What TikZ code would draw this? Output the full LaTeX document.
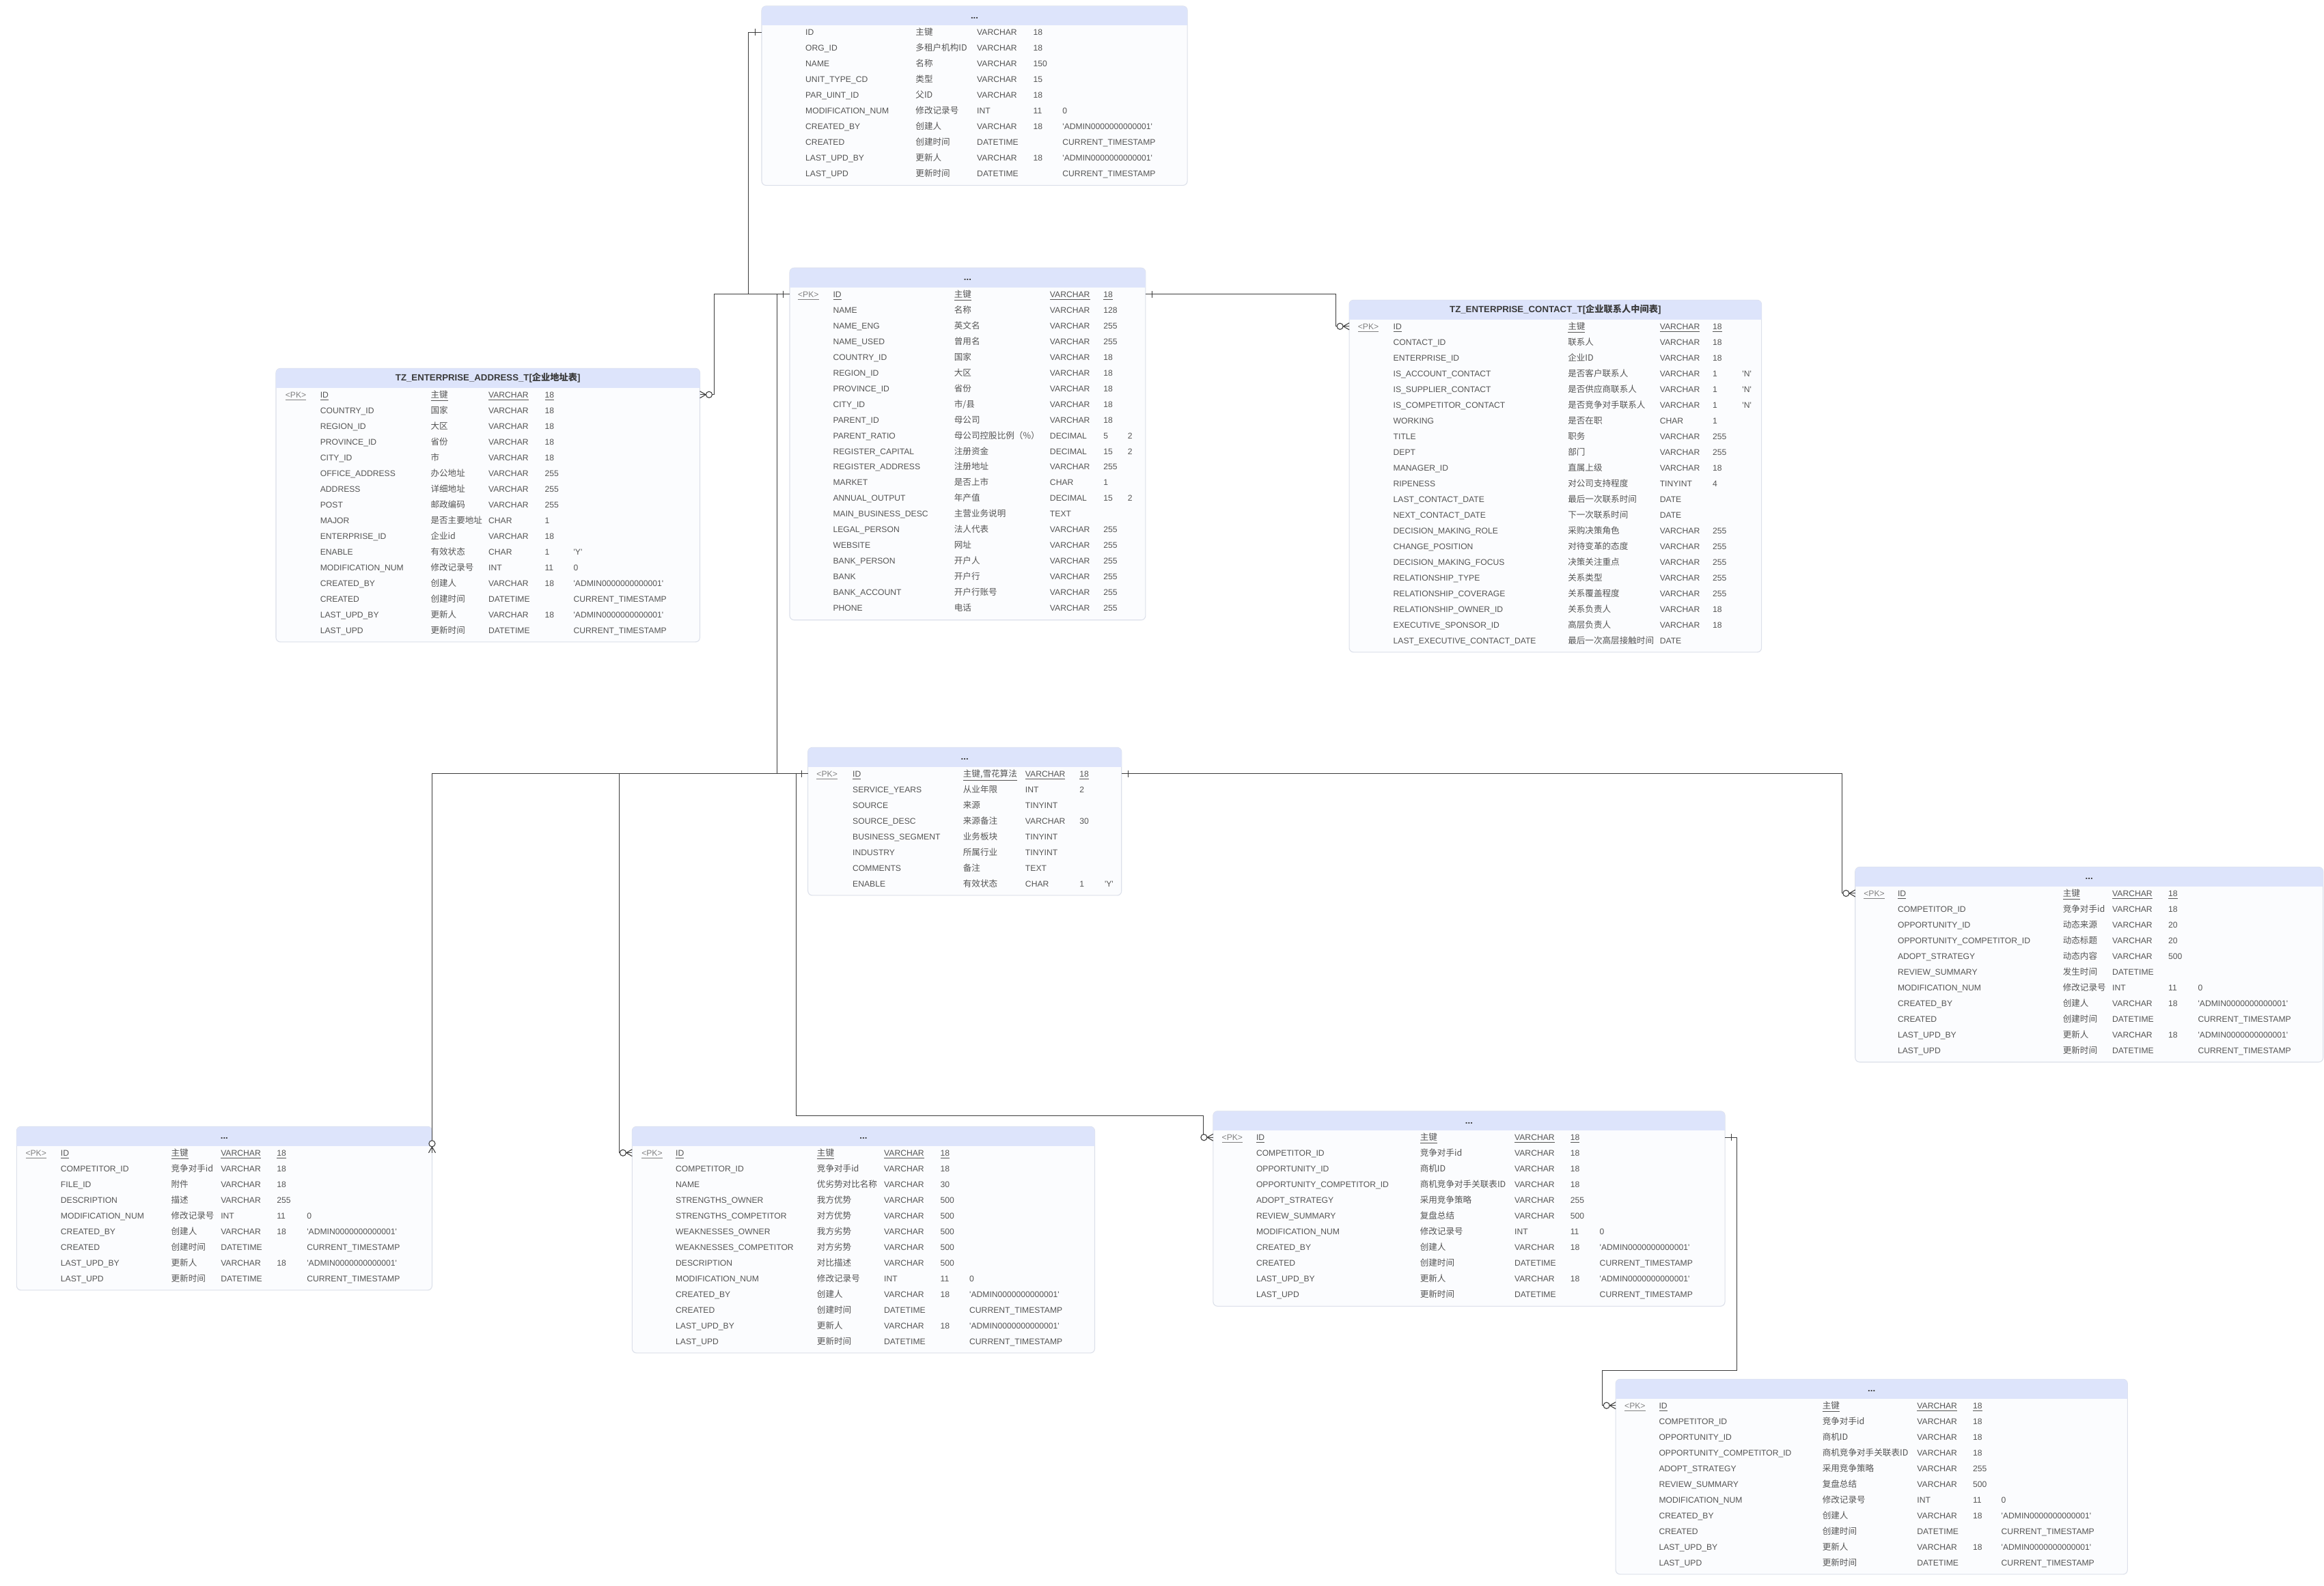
\documentclass[tikz,border=0pt]{standalone}
\usepackage{fontspec}
\setmainfont{Liberation Sans}
\newfontfamily\cjk{Noto Sans CJK SC}
\usetikzlibrary{arrows.meta}

\definecolor{headblue}{HTML}{DDE4FB}
\definecolor{tablebody}{HTML}{FBFCFE}
\definecolor{tableline}{HTML}{DCE0EA}
\definecolor{cellink}{HTML}{555555}
\definecolor{pkink}{HTML}{828282}
\definecolor{headink}{HTML}{3A3A3A}
\definecolor{linkink}{HTML}{3C3C3C}

% ER line ends: one (bar) and zero-or-many (circle + crow's foot)
\pgfdeclarearrow{
  name = Onebar,
  cache = false,
  setup code = {
    \pgfarrowssettipend{0pt}
    \pgfarrowssetlineend{0pt}
    \pgfarrowssetbackend{-5pt}
    \pgfarrowshullpoint{0pt}{2.4pt}
    \pgfarrowshullpoint{-5pt}{2.4pt}
    \pgfarrowshullpoint{-5pt}{-2.4pt}
    \pgfarrowshullpoint{0pt}{-2.4pt}
  },
  drawing code = {
    \pgfpathmoveto{\pgfqpoint{-4.3pt}{2.3pt}}
    \pgfpathlineto{\pgfqpoint{-4.3pt}{-2.3pt}}
    \pgfusepathqstroke
  }
}
\pgfdeclarearrow{
  name = Zeromany,
  cache = false,
  setup code = {
    \pgfarrowssettipend{0pt}
    \pgfarrowssetlineend{0pt}
    \pgfarrowssetbackend{-8.5pt}
    \pgfarrowshullpoint{0pt}{2.4pt}
    \pgfarrowshullpoint{-8.5pt}{2.4pt}
    \pgfarrowshullpoint{-8.5pt}{-2.4pt}
    \pgfarrowshullpoint{0pt}{-2.4pt}
  },
  drawing code = {
    \pgfpathmoveto{\pgfqpoint{0pt}{2.3pt}}
    \pgfpathlineto{\pgfqpoint{-4pt}{0pt}}
    \pgfpathlineto{\pgfqpoint{0pt}{-2.3pt}}
    \pgfusepathqstroke
    \pgfsetfillcolor{white}
    \pgfpathcircle{\pgfqpoint{-6.2pt}{0pt}}{2.1pt}
    \pgfusepathqfillstroke
  }
}

\tikzset{
  tablebox/.style={draw=tableline, fill=tablebody, line width=0.5pt,
    rounded corners=3pt, anchor=north west, inner sep=0pt, outer sep=0pt},
  headtext/.style={font=\bfseries\fontsize{6.1}{7}\selectfont, text=headink,
    text height=5pt, text depth=1pt, inner sep=0pt},
  cell/.style={anchor=west, inner sep=0pt, text height=5pt, text depth=1pt,
    text=cellink, font=\fontsize{5.6}{7}\selectfont},
  cjkcell/.style={cell, font=\cjk\fontsize{5.8}{7}\selectfont},
  pkcell/.style={cell, text=pkink},
  link/.style={draw=linkink, line width=0.5pt}
}

\newcount\rowno
\def\curtab{}
\newcommand\q[1]{\textquotesingle#1\textquotesingle}
% column offsets: pk, name, comment, type, length, default
\newcommand\ercols[6]{\def\colpk{#1}\def\colname{#2}\def\colcmt{#3}%
  \def\coltype{#4}\def\collen{#5}\def\coldef{#6}}
% table: name, x, y, width, rows, header
\newcommand\ertable[6]{%
  \node[tablebox, minimum width=#4, minimum height={25.6+(#5-1)*10.6}] (#1) at (#2,#3) {};
  \begin{scope}
    \clip (#1.north west) rectangle ([yshift=-12.8]#1.north east);
    \fill[headblue, rounded corners=3pt] (#1.north west) rectangle (#1.south east);
  \end{scope}
  \node[headtext] (#1-h) at ([yshift=-6.4]#1.north) {#6};
  \gdef\curtab{#1}\global\rowno=0\relax}
\newcommand\erpk[4]{%
  \pgfmathsetmacro\rowy{17.7+\the\rowno*10.6}%
  \node[pkcell] (\curtab-pk) at ([xshift=\colpk, yshift=-\rowy]\curtab.north west) {\underline{<PK>}};
  \node[cell] (\curtab-r\the\rowno) at ([xshift=\colname, yshift=-\rowy]\curtab.north west) {\underline{#1}};
  \node[cjkcell] (\curtab-c\the\rowno) at ([xshift=\colcmt, yshift=-\rowy]\curtab.north west) {\underline{#2}};
  \node[cell] (\curtab-t\the\rowno) at ([xshift=\coltype, yshift=-\rowy]\curtab.north west) {\underline{#3}};
  \node[cell] (\curtab-l\the\rowno) at ([xshift=\collen, yshift=-\rowy]\curtab.north west) {\underline{#4}};
  \global\advance\rowno by 1\relax}
\newcommand\errow[5]{%
  \pgfmathsetmacro\rowy{17.7+\the\rowno*10.6}%
  \node[cell] (\curtab-r\the\rowno) at ([xshift=\colname, yshift=-\rowy]\curtab.north west) {#1};
  \node[cjkcell] (\curtab-c\the\rowno) at ([xshift=\colcmt, yshift=-\rowy]\curtab.north west) {#2};
  \node[cell] (\curtab-t\the\rowno) at ([xshift=\coltype, yshift=-\rowy]\curtab.north west) {#3};
  \node[cell] (\curtab-l\the\rowno) at ([xshift=\collen, yshift=-\rowy]\curtab.north west) {#4};
  \node[cell] (\curtab-d\the\rowno) at ([xshift=\coldef, yshift=-\rowy]\curtab.north west) {#5};
  \global\advance\rowno by 1\relax}
\newcommand\auditrows{%
  \errow{MODIFICATION\_NUM}{修改记录号}{INT}{11}{0}%
  \errow{CREATED\_BY}{创建人}{VARCHAR}{18}{\q{ADMIN0000000000001}}%
  \errow{CREATED}{创建时间}{DATETIME}{}{CURRENT\_TIMESTAMP}%
  \errow{LAST\_UPD\_BY}{更新人}{VARCHAR}{18}{\q{ADMIN0000000000001}}%
  \errow{LAST\_UPD}{更新时间}{DATETIME}{}{CURRENT\_TIMESTAMP}}

\begin{document}
\begin{tikzpicture}[x=1pt, y=-1pt]
    \path[use as bounding box, fill=white] (0,0) rectangle (1568,1070.2);

    % organisation
    \ercols{0}{29.4}{103.7}{145.1}{183.1}{202.8}
    \ertable{org}{513.9}{4.1}{287.2}{10}{...}
    \errow{ID}{主键}{VARCHAR}{18}{}
    \errow{ORG\_ID}{多租户机构ID}{VARCHAR}{18}{}
    \errow{NAME}{名称}{VARCHAR}{150}{}
    \errow{UNIT\_TYPE\_CD}{类型}{VARCHAR}{15}{}
    \errow{PAR\_UINT\_ID}{父ID}{VARCHAR}{18}{}
    \auditrows

    % enterprise
    \ercols{5.4}{29.1}{110.8}{175.4}{211.5}{227.9}
    \ertable{ent}{532.8}{180.8}{240.1}{21}{...}
    \erpk{ID}{主键}{VARCHAR}{18}
    \errow{NAME}{名称}{VARCHAR}{128}{}
    \errow{NAME\_ENG}{英文名}{VARCHAR}{255}{}
    \errow{NAME\_USED}{曾用名}{VARCHAR}{255}{}
    \errow{COUNTRY\_ID}{国家}{VARCHAR}{18}{}
    \errow{REGION\_ID}{大区}{VARCHAR}{18}{}
    \errow{PROVINCE\_ID}{省份}{VARCHAR}{18}{}
    \errow{CITY\_ID}{市/县}{VARCHAR}{18}{}
    \errow{PARENT\_ID}{母公司}{VARCHAR}{18}{}
    \errow{PARENT\_RATIO}{母公司控股比例（\%）}{DECIMAL}{5}{2}
    \errow{REGISTER\_CAPITAL}{注册资金}{DECIMAL}{15}{2}
    \errow{REGISTER\_ADDRESS}{注册地址}{VARCHAR}{255}{}
    \errow{MARKET}{是否上市}{CHAR}{1}{}
    \errow{ANNUAL\_OUTPUT}{年产值}{DECIMAL}{15}{2}
    \errow{MAIN\_BUSINESS\_DESC}{主营业务说明}{TEXT}{}{}
    \errow{LEGAL\_PERSON}{法人代表}{VARCHAR}{255}{}
    \errow{WEBSITE}{网址}{VARCHAR}{255}{}
    \errow{BANK\_PERSON}{开户人}{VARCHAR}{255}{}
    \errow{BANK}{开户行}{VARCHAR}{255}{}
    \errow{BANK\_ACCOUNT}{开户行账号}{VARCHAR}{255}{}
    \errow{PHONE}{电话}{VARCHAR}{255}{}

    % enterprise contacts
    \ercols{5.7}{29.6}{147.4}{209.4}{245}{265}
    \ertable{con}{910.3}{202.5}{278.2}{21}{TZ\_ENTERPRISE\_CONTACT\_T[{\cjk 企业联系人中间表}]}
    \erpk{ID}{主键}{VARCHAR}{18}
    \errow{CONTACT\_ID}{联系人}{VARCHAR}{18}{}
    \errow{ENTERPRISE\_ID}{企业ID}{VARCHAR}{18}{}
    \errow{IS\_ACCOUNT\_CONTACT}{是否客户联系人}{VARCHAR}{1}{\q{N}}
    \errow{IS\_SUPPLIER\_CONTACT}{是否供应商联系人}{VARCHAR}{1}{\q{N}}
    \errow{IS\_COMPETITOR\_CONTACT}{是否竞争对手联系人}{VARCHAR}{1}{\q{N}}
    \errow{WORKING}{是否在职}{CHAR}{1}{}
    \errow{TITLE}{职务}{VARCHAR}{255}{}
    \errow{DEPT}{部门}{VARCHAR}{255}{}
    \errow{MANAGER\_ID}{直属上级}{VARCHAR}{18}{}
    \errow{RIPENESS}{对公司支持程度}{TINYINT}{4}{}
    \errow{LAST\_CONTACT\_DATE}{最后一次联系时间}{DATE}{}{}
    \errow{NEXT\_CONTACT\_DATE}{下一次联系时间}{DATE}{}{}
    \errow{DECISION\_MAKING\_ROLE}{采购决策角色}{VARCHAR}{255}{}
    \errow{CHANGE\_POSITION}{对待变革的态度}{VARCHAR}{255}{}
    \errow{DECISION\_MAKING\_FOCUS}{决策关注重点}{VARCHAR}{255}{}
    \errow{RELATIONSHIP\_TYPE}{关系类型}{VARCHAR}{255}{}
    \errow{RELATIONSHIP\_COVERAGE}{关系覆盖程度}{VARCHAR}{255}{}
    \errow{RELATIONSHIP\_OWNER\_ID}{关系负责人}{VARCHAR}{18}{}
    \errow{EXECUTIVE\_SPONSOR\_ID}{高层负责人}{VARCHAR}{18}{}
    \errow{LAST\_EXECUTIVE\_CONTACT\_DATE}{最后一次高层接触时间}{DATE}{}{}

    % enterprise addresses
    \ercols{6.2}{29.7}{104.2}{143.2}{181.2}{200.6}
    \ertable{addr}{186.2}{248.6}{286}{16}{TZ\_ENTERPRISE\_ADDRESS\_T[{\cjk 企业地址表}]}
    \erpk{ID}{主键}{VARCHAR}{18}
    \errow{COUNTRY\_ID}{国家}{VARCHAR}{18}{}
    \errow{REGION\_ID}{大区}{VARCHAR}{18}{}
    \errow{PROVINCE\_ID}{省份}{VARCHAR}{18}{}
    \errow{CITY\_ID}{市}{VARCHAR}{18}{}
    \errow{OFFICE\_ADDRESS}{办公地址}{VARCHAR}{255}{}
    \errow{ADDRESS}{详细地址}{VARCHAR}{255}{}
    \errow{POST}{邮政编码}{VARCHAR}{255}{}
    \errow{MAJOR}{是否主要地址}{CHAR}{1}{}
    \errow{ENTERPRISE\_ID}{企业id}{VARCHAR}{18}{}
    \errow{ENABLE}{有效状态}{CHAR}{1}{\q{Y}}
    \auditrows

    % competitor
    \ercols{5.7}{30}{104.5}{146.5}{183.1}{200}
    \ertable{comp}{545.1}{504.4}{211.6}{8}{...}
    \erpk{ID}{主键,雪花算法}{VARCHAR}{18}
    \errow{SERVICE\_YEARS}{从业年限}{INT}{2}{}
    \errow{SOURCE}{来源}{TINYINT}{}{}
    \errow{SOURCE\_DESC}{来源备注}{VARCHAR}{30}{}
    \errow{BUSINESS\_SEGMENT}{业务板块}{TINYINT}{}{}
    \errow{INDUSTRY}{所属行业}{TINYINT}{}{}
    \errow{COMMENTS}{备注}{TEXT}{}{}
    \errow{ENABLE}{有效状态}{CHAR}{1}{\q{Y}}

    % competitor news
    \ercols{5.6}{28.5}{139.9}{173.3}{211.1}{231.1}
    \ertable{dyn}{1251.7}{585.1}{315.7}{11}{...}
    \erpk{ID}{主键}{VARCHAR}{18}
    \errow{COMPETITOR\_ID}{竞争对手id}{VARCHAR}{18}{}
    \errow{OPPORTUNITY\_ID}{动态来源}{VARCHAR}{20}{}
    \errow{OPPORTUNITY\_COMPETITOR\_ID}{动态标题}{VARCHAR}{20}{}
    \errow{ADOPT\_STRATEGY}{动态内容}{VARCHAR}{500}{}
    \errow{REVIEW\_SUMMARY}{发生时间}{DATETIME}{}{}
    \auditrows

    % competitor files
    \ercols{5.9}{29.6}{104.1}{137.6}{175.4}{195.7}
    \ertable{att}{11.2}{760.2}{280.3}{9}{...}
    \erpk{ID}{主键}{VARCHAR}{18}
    \errow{COMPETITOR\_ID}{竞争对手id}{VARCHAR}{18}{}
    \errow{FILE\_ID}{附件}{VARCHAR}{18}{}
    \errow{DESCRIPTION}{描述}{VARCHAR}{255}{}
    \auditrows

    % strengths and weaknesses
    \ercols{6.2}{29.2}{124.5}{169.8}{207.8}{227.4}
    \ertable{swot}{426.5}{760.2}{312.1}{13}{...}
    \erpk{ID}{主键}{VARCHAR}{18}
    \errow{COMPETITOR\_ID}{竞争对手id}{VARCHAR}{18}{}
    \errow{NAME}{优劣势对比名称}{VARCHAR}{30}{}
    \errow{STRENGTHS\_OWNER}{我方优势}{VARCHAR}{500}{}
    \errow{STRENGTHS\_COMPETITOR}{对方优势}{VARCHAR}{500}{}
    \errow{WEAKNESSES\_OWNER}{我方劣势}{VARCHAR}{500}{}
    \errow{WEAKNESSES\_COMPETITOR}{对方劣势}{VARCHAR}{500}{}
    \errow{DESCRIPTION}{对比描述}{VARCHAR}{500}{}
    \auditrows

    % opportunity strategies
    \ercols{5.7}{28.9}{139.4}{203.2}{240.8}{260.6}
    \ertable{opp}{818.5}{749.8}{345.3}{11}{...}
    \erpk{ID}{主键}{VARCHAR}{18}
    \errow{COMPETITOR\_ID}{竞争对手id}{VARCHAR}{18}{}
    \errow{OPPORTUNITY\_ID}{商机ID}{VARCHAR}{18}{}
    \errow{OPPORTUNITY\_COMPETITOR\_ID}{商机竞争对手关联表ID}{VARCHAR}{18}{}
    \errow{ADOPT\_STRATEGY}{采用竞争策略}{VARCHAR}{255}{}
    \errow{REVIEW\_SUMMARY}{复盘总结}{VARCHAR}{500}{}
    \auditrows

    \ercols{5.8}{29}{139.3}{203.2}{240.8}{260}
    \ertable{oppb}{1090.1}{930.7}{345.3}{11}{...}
    \erpk{ID}{主键}{VARCHAR}{18}
    \errow{COMPETITOR\_ID}{竞争对手id}{VARCHAR}{18}{}
    \errow{OPPORTUNITY\_ID}{商机ID}{VARCHAR}{18}{}
    \errow{OPPORTUNITY\_COMPETITOR\_ID}{商机竞争对手关联表ID}{VARCHAR}{18}{}
    \errow{ADOPT\_STRATEGY}{采用竞争策略}{VARCHAR}{255}{}
    \errow{REVIEW\_SUMMARY}{复盘总结}{VARCHAR}{500}{}
    \auditrows

    % relations
    \draw[link, {Onebar}-{Onebar}] (ent.west |- ent-r0) -- ++(-28,0) |- (org.west |- org-r0);
    \draw[link, {Zeromany}-{Onebar}] (addr.east |- addr-r0) -- ++(9.8,0) |- (ent.west |- ent-r0);
    \draw[link, {Zeromany}-{Onebar}] (con.west |- con-r0) -- ++(-9,0) |- (ent.east |- ent-r0);
    \draw[link, {Onebar}-{Onebar}] (comp.west |- comp-r0) -- ++(-21,0) |- (ent.west |- ent-r0);
    \draw[link, {Zeromany}-{Onebar}] (att.east |- att-r0) |- (comp.west |- comp-r0);
    \draw[link, {Zeromany}-{Onebar}] (swot.west |- swot-r0) -- ++(-8.5,0) |- (comp.west |- comp-r0);
    \draw[link, {Zeromany}-{Onebar}] (opp.west |- opp-r0) -- ++(-6.5,0) -- ++(0,-14.6)
        -| ([xshift=-8]comp.west) |- (comp.west |- comp-r0);
    \draw[link, {Zeromany}-{Onebar}] (dyn.west |- dyn-r0) -- ++(-9,0) |- (comp.east |- comp-r0);
    \draw[link, {Zeromany}-{Onebar}] (oppb.west |- oppb-r0) -- ++(-9,0) -- ++(0,-23.5)
        -| ([xshift=8.2]opp.east) |- (opp.east |- opp-r0);
\end{tikzpicture}
\end{document}
